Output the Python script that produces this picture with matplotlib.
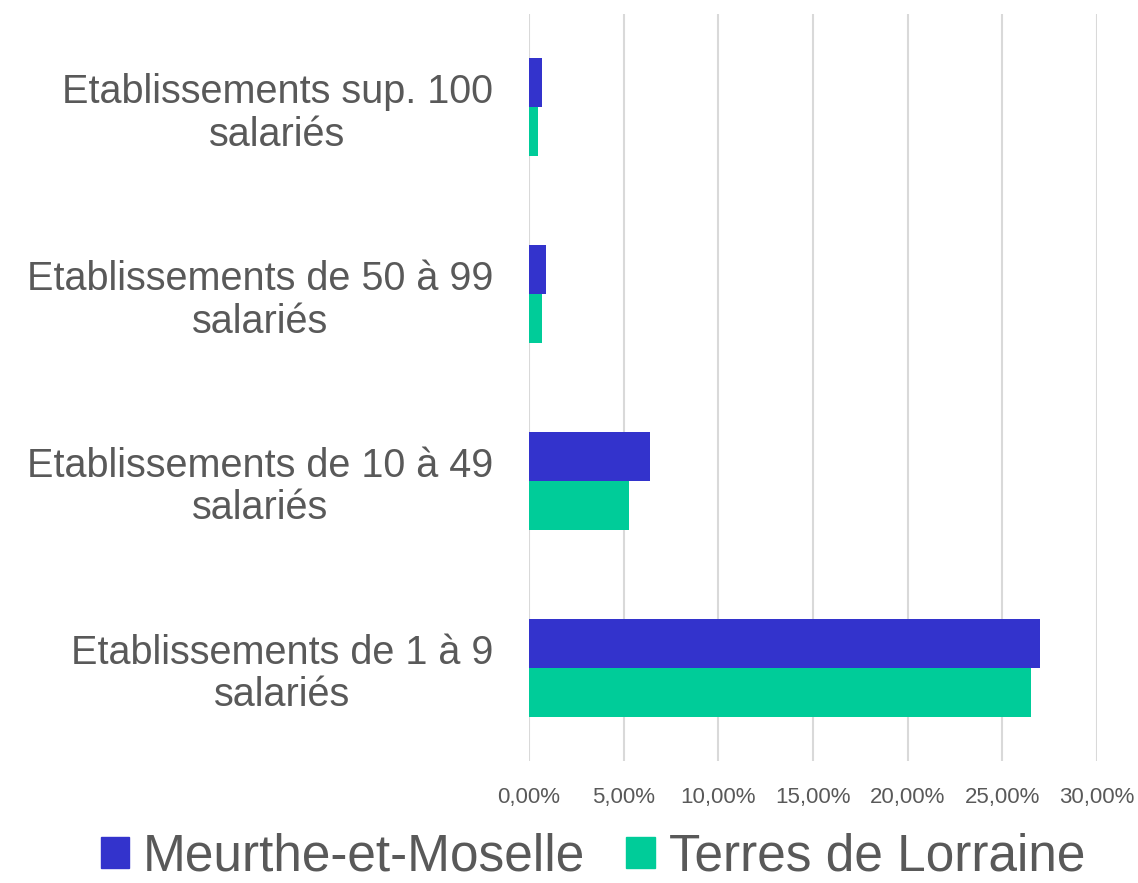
import numpy as np
import matplotlib.pyplot as plt
from matplotlib.patches import Patch
from matplotlib.ticker import FuncFormatter

plt.rcParams['font.family'] = ['Liberation Sans', 'DejaVu Sans']

# categories from bottom to top
categories = [
    "Etablissements de 1 à 9\nsalariés",
    "Etablissements de 10 à 49\nsalariés",
    "Etablissements de 50 à 99\nsalariés",
    "Etablissements sup. 100\nsalariés",
]
meurthe = [0.270, 0.064, 0.009, 0.007]
terres = [0.265, 0.053, 0.007, 0.005]
xticks = [0, 0.05, 0.10, 0.15, 0.20, 0.25, 0.30]

blue = "#3333CC"
green = "#00CC99"
grey = "#595959"

fig = plt.figure(figsize=(11.38, 8.83), dpi=100)
ax = fig.add_axes([529 / 1138, 1 - 761 / 883, 568 / 1138, 747 / 883])

y = np.arange(len(categories))
h = 0.262
ax.barh(y + h / 2, meurthe, height=h, color=blue)
ax.barh(y - h / 2, terres, height=h, color=green)

ax.set_xlim(0, 0.30)
ax.set_ylim(-0.5, 3.5)
ax.set_xticks(xticks)
ax.xaxis.set_major_formatter(FuncFormatter(lambda v, p: f"{v * 100:.2f}%".replace(".", ",")))
ax.set_yticks(y)
ax.set_yticklabels(categories, fontsize=28.5, color=grey)
for lab in ax.get_yticklabels():
    lab.set_multialignment("center")
    lab.set_linespacing(1.15)
ax.tick_params(axis="x", labelsize=16, colors=grey, length=0, pad=19)
ax.tick_params(axis="y", length=0, pad=26)

ax.grid(axis="x", color="#D9D9D9", linewidth=1.5)
ax.set_axisbelow(True)
for s in ax.spines.values():
    s.set_visible(False)

handles = [Patch(color=blue, label="Meurthe-et-Moselle"),
           Patch(color=green, label="Terres de Lorraine")]
fig.legend(handles=handles, loc="center", bbox_to_anchor=(593 / 1138, 1 - 857 / 883),
           ncol=2, frameon=False, fontsize=37, labelcolor=grey,
           handlelength=0.55, handleheight=0.55, handletextpad=0.27,
           columnspacing=0.8, borderpad=0, borderaxespad=0)

fig.savefig("out.png", dpi=100)
